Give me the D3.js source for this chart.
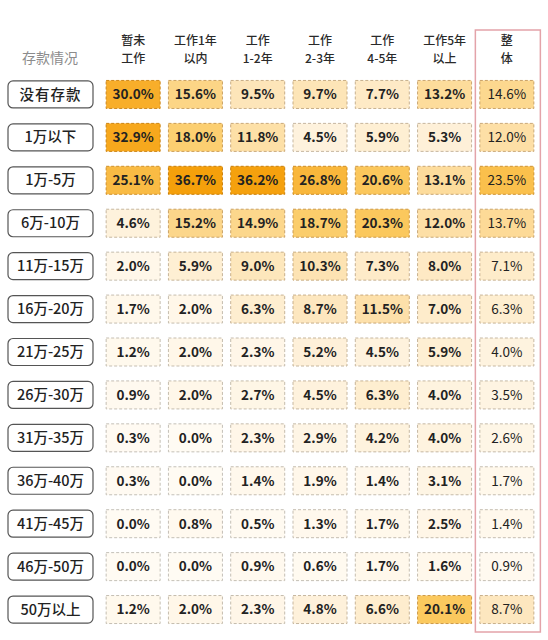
<!DOCTYPE html>
<html>
<head>
<meta charset="utf-8">
<script src="https://cdn.jsdelivr.net/npm/d3@7"></script>
<style>
  html, body { margin: 0; padding: 0; background: #fff; }
  svg { display: block; font-family: "Noto Sans CJK SC", "Noto Sans", sans-serif; }
</style>
</head>
<body>
<svg id="chart" width="548" height="640"></svg>
<script>
// rows = savings bracket, columns = work experience
const rowLabels = ["没有存款","1万以下","1万-5万","6万-10万","11万-15万","16万-20万","21万-25万",
  "26万-30万","31万-35万","36万-40万","41万-45万","46万-50万","50万以上"];
const colKeys = ["none","lt1","y1_2","y2_3","y4_5","gt5","all"];
const colHeaders = [["暂未","工作"],["工作1年","以内"],["工作","1-2年"],["工作","2-3年"],
  ["工作","4-5年"],["工作5年","以上"],["整","体"]];
const cornerLabel = "存款情况";

const values = [
  [30.0, 15.6,  9.5,  9.7,  7.7, 13.2, 14.6],
  [32.9, 18.0, 11.8,  4.5,  5.9,  5.3, 12.0],
  [25.1, 36.7, 36.2, 26.8, 20.6, 13.1, 23.5],
  [ 4.6, 15.2, 14.9, 18.7, 20.3, 12.0, 13.7],
  [ 2.0,  5.9,  9.0, 10.3,  7.3,  8.0,  7.1],
  [ 1.7,  2.0,  6.3,  8.7, 11.5,  7.0,  6.3],
  [ 1.2,  2.0,  2.3,  5.2,  4.5,  5.9,  4.0],
  [ 0.9,  2.0,  2.7,  4.5,  6.3,  4.0,  3.5],
  [ 0.3,  0.0,  2.3,  2.9,  4.2,  4.0,  2.6],
  [ 0.3,  0.0,  1.4,  1.9,  1.4,  3.1,  1.7],
  [ 0.0,  0.8,  0.5,  1.3,  1.7,  2.5,  1.4],
  [ 0.0,  0.0,  0.9,  0.6,  1.7,  1.6,  0.9],
  [ 1.2,  2.0,  2.3,  4.8,  6.6, 20.1,  8.7]
];

const svg = d3.select("#chart");

const x = d3.scalePoint().domain(colKeys).range([102, 538]).padding(0.5);
const y = d3.scalePoint().domain(rowLabels).range([73, 631]).padding(0.5);
const cellW = 54, cellH = 28;

const fill = d3.scaleLinear()
  .domain([0, 5, 12, 20, 30, 37])
  .range(["#fffbf3", "#fef1da", "#fddfa6", "#fbc95f", "#f8ae2a", "#f59f0a"])
  .clamp(true);
const border = d3.scaleLinear()
  .domain([0, 12, 25, 37])
  .range(["#c4c0b8", "#c9a878", "#d0902a", "#c97d05"])
  .clamp(true);

// highlight box round the overall column
svg.append("rect")
  .attr("x", x("all") - 31.5).attr("y", 30)
  .attr("width", 65).attr("height", 602)
  .attr("fill", "none").attr("stroke", "#e3a3a9").attr("stroke-width", 1.5);

// header
svg.append("text")
  .attr("x", 50).attr("y", 58).attr("dy", "0.35em")
  .attr("text-anchor", "middle").attr("font-size", 14).attr("fill", "#8c8c8c")
  .text(cornerLabel);

// two header lines as separate texts
const hdrLines = [];
colKeys.forEach((k, i) => colHeaders[i].forEach((l, j) => hdrLines.push({k, l, j})));
svg.append("g").selectAll("text").data(hdrLines).join("text")
  .attr("x", d => x(d.k))
  .attr("y", d => 41 + d.j * 17.5)
  .attr("dy", "0.35em")
  .attr("text-anchor", "middle").attr("font-size", 12).attr("fill", "#2a2a2a")
  .attr("font-weight", 500)
  .text(d => d.l);

// row labels
const rl = svg.append("g").selectAll("g").data(rowLabels).join("g")
  .attr("transform", d => `translate(0,${y(d)})`);
rl.append("rect")
  .attr("x", 8).attr("y", -13.5).attr("width", 85).attr("height", 27)
  .attr("rx", 5).attr("fill", "#fff").attr("stroke", "#555").attr("stroke-width", 1.2);
rl.append("text")
  .attr("x", 50.5).attr("dy", "0.35em").attr("text-anchor", "middle")
  .attr("font-size", 14.5).attr("font-weight", 500).attr("fill", "#222")
  .attr("letter-spacing", d => d === "没有存款" ? 1 : 0)
  .text(d => d);

// cells
const cells = [];
values.forEach((row, r) => row.forEach((v, c) => cells.push({row: rowLabels[r], col: colKeys[c], v})));

const cg = svg.append("g").selectAll("g").data(cells).join("g")
  .attr("transform", d => `translate(${x(d.col)},${y(d.row)})`);
cg.append("rect")
  .attr("x", -cellW / 2).attr("y", -cellH / 2)
  .attr("width", cellW).attr("height", cellH)
  .attr("fill", d => fill(d.v))
  .attr("stroke", d => border(d.v))
  .attr("stroke-width", 1)
  .attr("stroke-dasharray", "3,2");
cg.append("text")
  .attr("dy", "0.36em").attr("text-anchor", "middle")
  .attr("font-size", 13.5)
  .attr("font-weight", d => d.col === "all" ? 400 : 700)
  .attr("fill", "#222")
  .text(d => d.v.toFixed(1) + "%");
</script>
</body>
</html>
